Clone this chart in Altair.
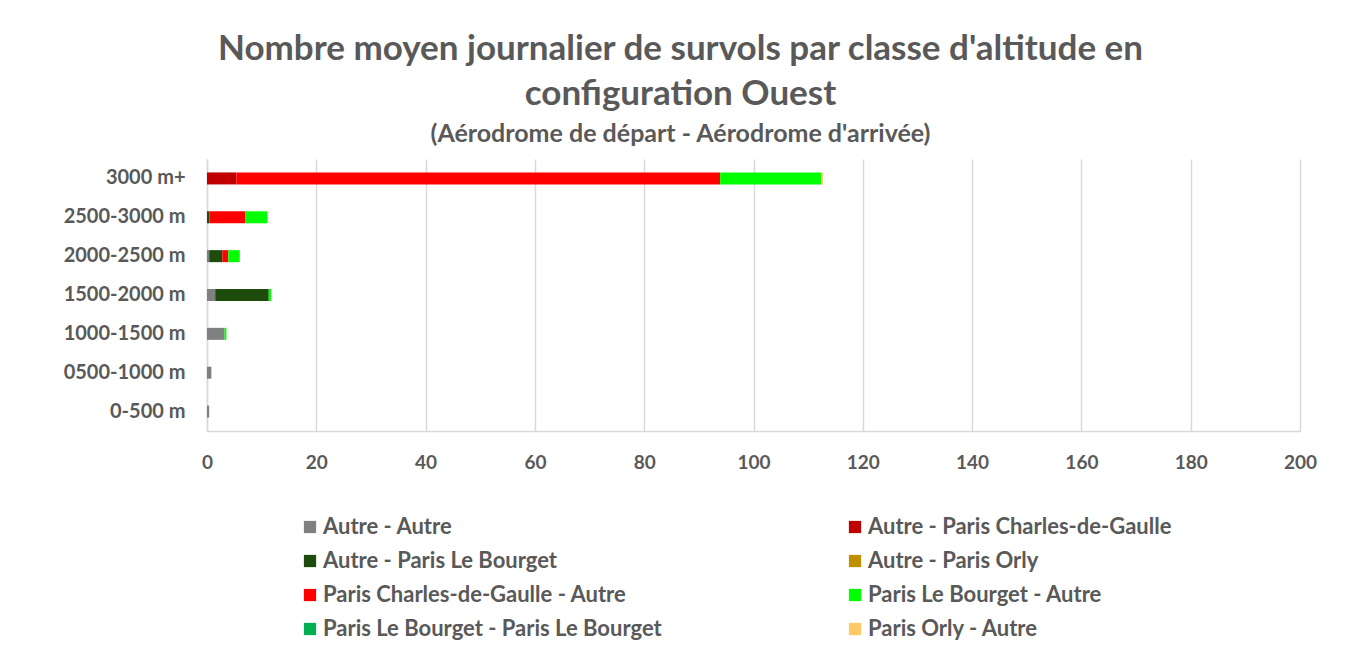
import altair as alt
import pandas as pd

categories = ["0-500 m", "0500-1000 m", "1000-1500 m", "1500-2000 m",
              "2000-2500 m", "2500-3000 m", "3000 m+"]
series = ["Autre - Autre", "Autre - Paris Charles-de-Gaulle", "Autre - Paris Le Bourget",
          "Autre - Paris Orly", "Paris Charles-de-Gaulle - Autre", "Paris Le Bourget - Autre",
          "Paris Le Bourget - Paris Le Bourget", "Paris Orly - Autre"]
colors = ["#808080", "#C00000", "#1D4C0C", "#BF8F00", "#FF0000", "#00FF00", "#00B050", "#FFC965"]

autre_autre = [0.4, 0.8, 3.2, 1.5, 0.4, 0.0, 0.0]
autre_cdg = [0.0, 0.0, 0.0, 0.0, 0.0, 0.0, 5.4]
autre_bourget = [0.0, 0.0, 0.0, 9.8, 2.4, 0.45, 0.0]
autre_orly = [0.0, 0.0, 0.0, 0.0, 0.0, 0.0, 0.0]
cdg_autre = [0.0, 0.0, 0.0, 0.0, 1.1, 6.6, 88.5]
bourget_autre = [0.0, 0.0, 0.35, 0.45, 2.1, 4.0, 18.5]
bourget_bourget = [0.0, 0.0, 0.0, 0.0, 0.0, 0.0, 0.0]
orly_autre = [0.0, 0.0, 0.0, 0.0, 0.0, 0.0, 0.3]

all_values = [autre_autre, autre_cdg, autre_bourget, autre_orly,
              cdg_autre, bourget_autre, bourget_bourget, orly_autre]

rows = []
for si, (name, vals) in enumerate(zip(series, all_values)):
    for cat, v in zip(categories, vals):
        rows.append({"classe": cat, "serie": name, "valeur": v, "ordre": si})
df = pd.DataFrame(rows)

FONT = "Lato"
TXT = "#595959"

chart = alt.Chart(df).mark_bar(size=12).encode(
    y=alt.Y("classe:N", sort=list(reversed(categories)), title=None,
            axis=alt.Axis(labelFont=FONT, labelFontSize=20, labelFontWeight="bold",
                          labelColor=TXT, labelPadding=22, ticks=False,
                          domainColor="#D9D9D9", domainWidth=1.5)),
    x=alt.X("valeur:Q", stack="zero", title=None,
            scale=alt.Scale(domain=[0, 200], nice=False),
            axis=alt.Axis(values=list(range(0, 201, 20)), labelFont=FONT, labelFontSize=19,
                          labelFontWeight="bold", labelColor=TXT, labelPadding=22,
                          labelFlush=False,
                          ticks=False, grid=True, gridColor="#D9D9D9", gridWidth=1.5,
                          domainColor="#D9D9D9", domainWidth=1.5)),
    color=alt.Color("serie:N", scale=alt.Scale(domain=series, range=colors), title=None,
                    legend=alt.Legend(orient="none", legendX=92, legendY=357, columns=2,
                                      direction="horizontal",
                                      symbolType="square", symbolSize=150, symbolStrokeWidth=0,
                                      labelFont=FONT, labelFontSize=22, labelFontWeight="bold",
                                      labelColor=TXT, labelLimit=600, rowPadding=12,
                                      columnPadding=182, labelOffset=2)),
    order=alt.Order("ordre:Q", sort="ascending"),
).properties(
    width=1093,
    height=272,
    autosize=alt.AutoSizeParams(type="none"),
    padding={"left": 199, "top": 151, "right": 50, "bottom": 215},
    title=alt.TitleParams(
        text=["Nombre moyen journalier de survols par classe d'altitude en", "configuration Ouest"],
        subtitle="(Aérodrome de départ - Aérodrome d'arrivée)",
        anchor="middle", dx=-73, offset=12,
        font=FONT, fontSize=35, fontWeight="bold", color=TXT, lineHeight=45,
        subtitleFont=FONT, subtitleFontSize=25, subtitleFontWeight="bold",
        subtitleColor=TXT, subtitlePadding=10,
    ),
).configure_view(stroke=None)

chart.save("out.html", embed_options={"renderer": "svg", "actions": False})
